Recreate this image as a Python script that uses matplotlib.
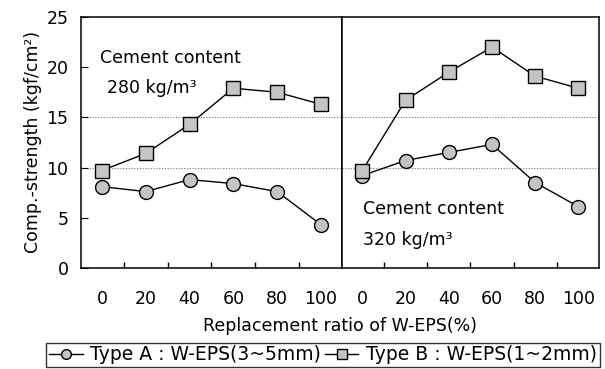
import matplotlib.pyplot as plt
import numpy as np

plt.rcParams['font.family'] = ['DejaVu Sans']

ratio = [0, 20, 40, 60, 80, 100]
# cement content 280 kg/m3
a_280 = [8.1, 7.6, 8.8, 8.4, 7.6, 4.3]
b_280 = [9.7, 11.4, 14.3, 17.9, 17.5, 16.3]
# cement content 320 kg/m3
a_320 = [9.2, 10.7, 11.5, 12.3, 8.5, 6.1]
b_320 = [9.7, 16.7, 19.5, 22.0, 19.1, 17.9]
grid_levels = [10, 15]

fig = plt.figure(figsize=(6.05, 3.69), dpi=100)
ax1 = fig.add_axes([0.134, 0.274, 0.431, 0.680])
ax2 = fig.add_axes([0.565, 0.274, 0.425, 0.680])

fill = '#c4c4c4'
labels = [(ax1, a_280, b_280, '280', 0.073, 0.837, 0.10, 0.717),
          (ax2, a_320, b_320, '320', 0.082, 0.235, 0.082, 0.11)]
for ax, a, b, txt, x1, y1, x2, y2 in labels:
    for g in grid_levels:
        ax.axhline(g, color='#777777', lw=0.8, ls=(0, (1, 1.5)), zorder=1)
    la, = ax.plot(ratio, a, color='black', lw=1, marker='o', ms=10,
                  mfc=fill, mec='black', mew=1, zorder=3)
    lb, = ax.plot(ratio, b, color='black', lw=1, marker='s', ms=10,
                  mfc=fill, mec='black', mew=1, zorder=3)
    ax.set_xlim(-9.5, 109.5)
    ax.set_ylim(0, 25)
    ax.set_xticks(ratio)
    ax.set_xticks([10, 30, 50, 70, 90], minor=True)
    ax.tick_params(axis='x', which='major', length=0, pad=16, labelsize=12.5)
    ax.tick_params(axis='x', which='minor', direction='in', length=4, width=1)
    ax.tick_params(axis='y', direction='in', length=5, labelsize=12.5)
    for s in ax.spines.values():
        s.set_linewidth(1.1)
    ax.text(x1, y1, 'Cement content', transform=ax.transAxes, fontsize=12.5, va='center')
    ax.text(x2, y2, txt + ' kg/m³', transform=ax.transAxes, fontsize=12.5, va='center')

ax1.set_yticks([0, 5, 10, 15, 20, 25])
ax1.tick_params(axis='y', pad=9)
ax2.tick_params(axis='y', left=False, labelleft=False)
ax1.set_ylabel('Comp.-strength (kgf/cm²)', fontsize=12.5, labelpad=3)
fig.text(0.562, 0.117, 'Replacement ratio of W-EPS(%)', ha='center', va='center', fontsize=12.5)

leg = fig.legend([la, lb], ['Type A : W-EPS(3~5mm)', 'Type B : W-EPS(1~2mm)'],
                 loc='lower left', bbox_to_anchor=(0.076, 0.005),
                 ncol=2, fontsize=13.5, frameon=True, fancybox=False,
                 handlelength=1.8, handletextpad=0.4, columnspacing=0.2,
                 borderpad=0.15, borderaxespad=0, markerscale=0.7)
leg.get_frame().set_edgecolor('black')
leg.get_frame().set_linewidth(1)

fig.savefig('out.png', dpi=100)
